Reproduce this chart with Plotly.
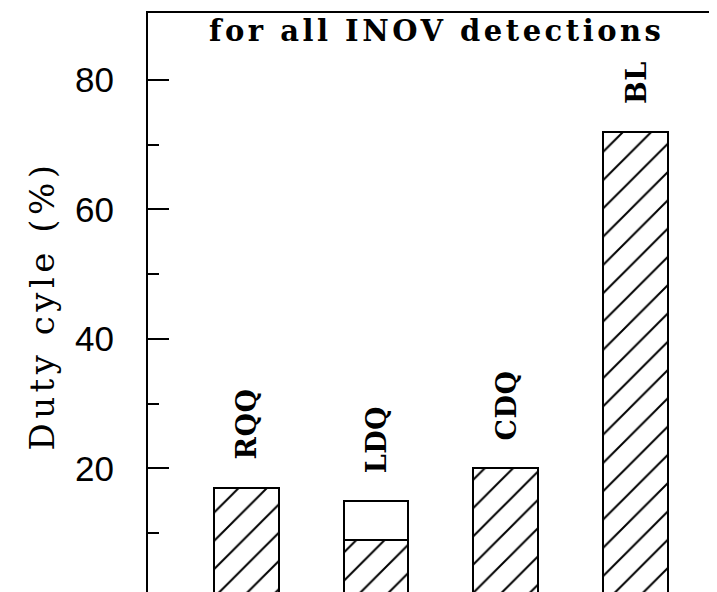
import plotly.graph_objects as go

categories = ["RQQ", "LDQ", "CDQ", "BL"]
total_duty = [17, 15, 20, 72]      # full bar height (%)
hatched_duty = [17, 9, 20, 72]     # hatched (lower) part (%)
major_ticks = [20, 40, 60, 80]
minor_ticks = [10, 30, 50, 70]
title_text = "for all INOV detections"
ytitle_text = "Duty cyle (%)"

xpos = list(range(len(categories)))
open_part = [t - h if t - h > 0 else None for t, h in zip(total_duty, hatched_duty)]


def spaced(s, px):
    return '<span style="letter-spacing:%spx">%s</span>' % (px, s)


fig = go.Figure()
fig.add_trace(go.Bar(
    x=xpos, y=hatched_duty, width=0.5,
    marker=dict(color="white", line=dict(color="black", width=2),
                pattern=dict(shape="/", fgcolor="black", bgcolor="white", fgopacity=1,
                             size=20, solidity=0.1)),
    showlegend=False, hoverinfo="skip"))
fig.add_trace(go.Bar(
    x=xpos, y=open_part, width=0.5,
    marker=dict(color="white", line=dict(color="black", width=2)),
    showlegend=False, hoverinfo="skip"))

label_font = dict(family="DejaVu Serif", size=27, color="black", weight="bold")
for xi, name, top in zip(xpos, categories, total_duty):
    fig.add_annotation(x=xi, y=top, text=spaced(name, 0.5), textangle=-90, showarrow=False,
                       xanchor="center", yanchor="bottom", yshift=26, font=label_font)

fig.add_annotation(x=0.5, y=1, xref="paper", yref="paper", text=spaced(title_text, 3.5),
                   showarrow=False, xanchor="center", yanchor="top", yshift=1,
                   font=dict(family="DejaVu Serif", size=29, color="black", weight="bold"))

# right-side ticks (frame edge lies just outside the picture)
for v in major_ticks:
    fig.add_shape(type="line", xref="paper", yref="y", xsizemode="pixel", xanchor=1,
                  x0=-16, x1=0, y0=v, y1=v, line=dict(color="black", width=2))
for v in minor_ticks:
    fig.add_shape(type="line", xref="paper", yref="y", xsizemode="pixel", xanchor=1,
                  x0=-4, x1=0, y0=v, y1=v, line=dict(color="black", width=2))

fig.update_layout(
    width=717, height=592,
    margin=dict(l=140, r=0, t=5, b=2),
    paper_bgcolor="white", plot_bgcolor="white",
    barmode="stack", bargap=0,
    xaxis=dict(range=[-0.754, 3.685], showticklabels=False, ticks="", showgrid=False,
               zeroline=False, showline=True, mirror=True, linecolor="black", linewidth=2),
    yaxis=dict(range=[0, 90.3], tickvals=major_ticks, ticks="inside", ticklen=21, tickwidth=2,
               tickcolor="black", showgrid=False, zeroline=False, showline=True,
               linecolor="black", linewidth=2, ticklabelstandoff=25,
               tickfont=dict(family="Liberation Sans", size=35, color="black"),
               minor=dict(tickvals=minor_ticks, ticks="inside", ticklen=11, tickwidth=2,
                          tickcolor="black", showgrid=False),
               title=dict(text=spaced(ytitle_text, 4.5), standoff=10,
                          font=dict(family="DejaVu Serif", size=34, color="black"))),
)

fig.write_html("out.html")
